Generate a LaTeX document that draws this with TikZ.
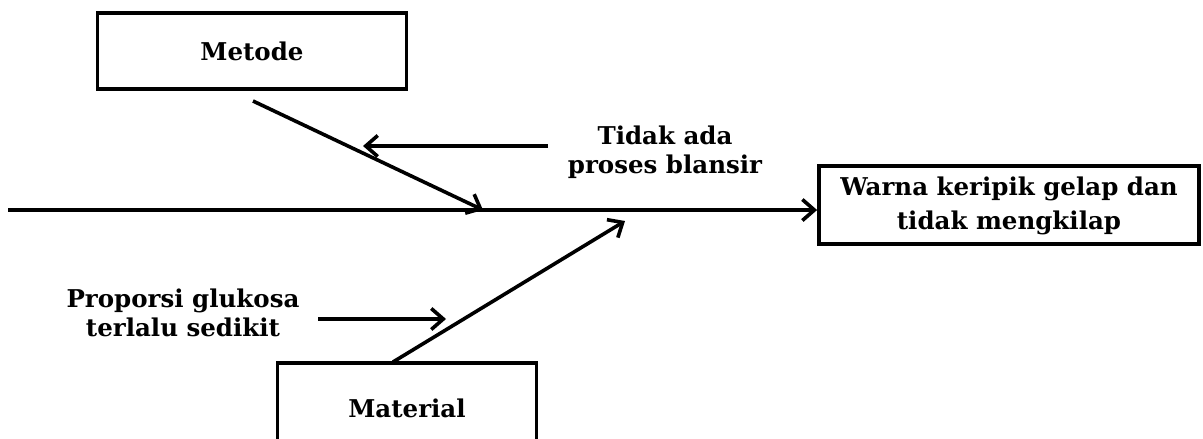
\documentclass[tikz,border=0pt]{standalone}
\usepackage{fontspec}
\setmainfont{DejaVu Serif}
\usetikzlibrary{arrows.meta}

\begin{document}
\begin{tikzpicture}[x=1pt, y=-1pt,
                    box/.style={draw, line width=3.8pt, align=center, font=\bfseries\fontsize{24.5}{34}\selectfont},
                    cause/.style={align=center, font=\bfseries\fontsize{24.5}{29}\selectfont},
                    bone/.style={line width=3.6pt, -{Straight Barb[length=12pt, width=21pt, line width=3.6pt]}}]
  \clip (0,0) rectangle (1203,439);
  \node[box, minimum width=309pt, minimum height=76pt] (metode) at (252,51) {Metode};
  \node[box, minimum width=380pt, minimum height=78pt, text depth=4pt] (warna) at (1009,205) {Warna keripik gelap dan\\tidak mengkilap};
  \node[box, minimum width=259pt, minimum height=90pt] (material) at (407,408) {Material};
  \node[cause] (blansir) at (665,152) {Tidak ada\\proses blansir};
  \node[cause] (glukosa) at (183,313) {Proporsi glukosa\\terlalu sedikit};
  \coordinate (ekor) at (8,210);
  \coordinate (m1) at (253,101);
  \coordinate (m2) at (483,210);
  \coordinate (b1) at (548,146);
  \coordinate (b2) at (363,146);
  \coordinate (g1) at (318,319);
  \coordinate (g2) at (446,319);
  \coordinate (t1) at (393,362);
  \coordinate (t2) at (625,221);
  \draw[bone] (ekor) -- (ekor -| warna.west);
  \draw[bone] (m1) -- (m2);
  \draw[bone] (b1) -- (b2);
  \draw[bone] (g1) -- (g2);
  \draw[bone] (t1) -- (t2);
\end{tikzpicture}
\end{document}
